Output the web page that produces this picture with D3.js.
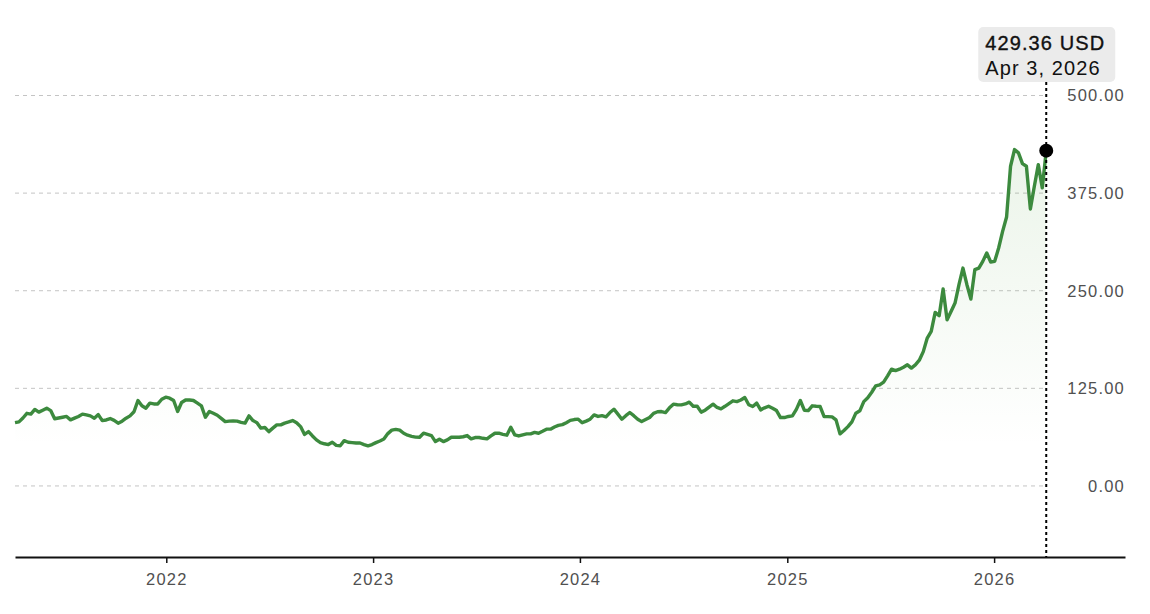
<!DOCTYPE html>
<html>
<head>
<meta charset="utf-8">
<script src="https://cdn.jsdelivr.net/npm/d3@7"></script>
<style>
  body { margin: 0; background: #fff; }
  svg { display: block; font-family: "Liberation Sans", Arial, sans-serif; }
  .grid line { stroke: #c4c4c4; stroke-dasharray: 4 4; }
  .tick-label { fill: #505050; font-size: 16.5px; letter-spacing: 1.2px; }
</style>
</head>
<body>
<svg id="chart" width="1150" height="614"></svg>
<script>
// weekly closes, first week ending 2021-04-09, last 2026-04-03
var start_date = "2021-04-09";
var weekly_close = [
  81, 82, 87, 93, 92, 98, 94.5, 97, 99.6, 96.5,
  86, 87, 88, 89, 84.6, 86.8, 89, 92, 91, 89.7,
  86.8, 91.4, 83.7, 84.5, 86.3, 84, 80.3, 83, 86.8, 89.7,
  95, 109.4, 102.6, 99.6, 106, 105, 105, 111, 113.7, 112.4,
  109.4, 95.3, 106.8, 110, 110, 109.4, 106, 102.6, 88, 95.3,
  93, 90.5, 86.5, 82.4, 83, 83.3, 83, 81.5, 80.4, 89.7,
  83.7, 81, 74, 74.8, 69.6, 74, 78.2, 78.2, 80.5, 82,
  83.7, 81, 76, 66, 69.6, 64, 59, 55.5, 54, 53,
  56, 52, 51.5, 58, 56, 55.5, 55, 55, 53, 51.3,
  53, 55.5, 57.5, 60, 67, 71.5, 72.5, 71.5, 67.5, 65,
  63.5, 62.5, 62.4, 67.5, 66, 64.5, 56.8, 59.8, 56.8, 59,
  62.4, 62.4, 62.4, 63, 64.5, 60.3, 62, 62, 61, 60.3,
  64, 67.5, 67.5, 66, 65, 75.2, 65.4, 64, 65.5, 66.7,
  66.7, 68.5, 67.5, 70, 72.7, 72.7, 75.5, 77.5, 78.5, 81,
  84, 85, 85.5, 81, 83, 85.5, 91, 89, 90, 88.5,
  94, 98.3, 92, 85.5, 90, 94, 90, 85.5, 82.4, 85,
  87.6, 93, 95, 95.3, 94, 100, 104.7, 104, 103.8, 105,
  107.3, 102, 102, 94.5, 97, 101, 104.7, 100.5, 98.7, 102,
  105.5, 109, 108, 110, 113.2, 104, 101.7, 106, 97.4, 100,
  102, 99.5, 96.5, 87.6, 87.6, 89, 89.7, 98, 109.4, 97,
  96.5, 102.6, 102, 101.7, 88.8, 88.8, 88.5, 84.6, 66.7, 71,
  76, 82, 93.2, 96.2, 108, 113, 120, 128.2, 129.5, 133,
  141, 149.6, 147.8, 149.5, 152, 155.1, 150.9, 155, 161, 172,
  189.4, 197.9, 222.2, 218, 252.2, 212.8, 223.5, 234.2, 257.7, 279,
  257.7, 239.4, 277, 279, 287.6, 298.3, 286.8, 287.6, 304.7, 326,
  344.5, 409.4, 430.8, 426.5, 412.8, 409.4, 354.7, 383.7, 411.5, 381.7,
  429.36
];
var y_ticks = [0, 125, 250, 375, 500];
var x_ticks = ["2022-01-01", "2023-01-01", "2024-01-01", "2025-01-01", "2026-01-01"];
var x_end_date = "2026-08-20";
var currency = "USD";

var parseDate = d3.timeParse("%Y-%m-%d");
var first = parseDate(start_date);

var data = weekly_close.map(function(v, i) {
  return { date: d3.timeDay.offset(first, i * 7), value: v };
});
var last = data[data.length - 1];

var left = 15, right = 1125, bottom = 557, gridRight = 1046;

var x = d3.scaleTime()
  .domain([first, parseDate(x_end_date)])
  .range([left, right]);

var y = d3.scaleLinear()
  .domain([-91, 500])
  .range([bottom, 95.5]);

var svg = d3.select("#chart");

// gradient under the line, fading out at the lowest close
var defs = svg.append("defs");
var grad = defs.append("linearGradient")
  .attr("id", "areaFill")
  .attr("gradientUnits", "userSpaceOnUse")
  .attr("x1", 0).attr("x2", 0)
  .attr("y1", y(d3.max(weekly_close))).attr("y2", y(d3.min(weekly_close)));
grad.append("stop").attr("offset", "0%").attr("stop-color", "#5aa64a").attr("stop-opacity", 0.12);
grad.append("stop").attr("offset", "100%").attr("stop-color", "#5aa64a").attr("stop-opacity", 0);

// grid lines
svg.append("g")
  .attr("class", "grid")
  .selectAll("line")
  .data(y_ticks)
  .enter().append("line")
  .attr("x1", left)
  .attr("x2", gridRight)
  .attr("y1", function(d) { return y(d); })
  .attr("y2", function(d) { return y(d); });

// y labels on the right
svg.append("g")
  .selectAll("text")
  .data(y_ticks)
  .enter().append("text")
  .attr("class", "tick-label")
  .attr("x", right)
  .attr("y", function(d) { return y(d); })
  .attr("dy", "0.36em")
  .attr("text-anchor", "end")
  .text(function(d) { return d3.format(".2f")(d); });

// area + line
var area = d3.area()
  .x(function(d) { return x(d.date); })
  .y0(bottom)
  .y1(function(d) { return y(d.value); });

var line = d3.line()
  .x(function(d) { return x(d.date); })
  .y(function(d) { return y(d.value); });

svg.append("path")
  .datum(data)
  .attr("d", area)
  .attr("fill", "url(#areaFill)");

svg.append("path")
  .datum(data)
  .attr("d", line)
  .attr("fill", "none")
  .attr("stroke", "#3c8a3e")
  .attr("stroke-width", 3.4)
  .attr("stroke-linejoin", "round");

// x axis
var xAxis = d3.axisBottom(x)
  .tickValues(x_ticks.map(parseDate))
  .tickSize(6)
  .tickSizeOuter(0)
  .tickFormat(d3.timeFormat("%Y"));

var gx = svg.append("g")
  .attr("transform", "translate(0," + bottom + ")")
  .call(xAxis);
gx.select(".domain").attr("stroke", "#111").attr("stroke-width", 2);
gx.selectAll(".tick line").attr("stroke", "#111").attr("stroke-width", 1.5);
gx.selectAll(".tick text")
  .attr("class", "tick-label")
  .attr("y", 16)
  .attr("dy", "0.71em")
  .style("font-family", "Liberation Sans, Arial, sans-serif");

// hover marker on last point
var lx = x(last.date);

svg.append("line")
  .attr("x1", lx).attr("x2", lx)
  .attr("y1", 82).attr("y2", bottom)
  .attr("stroke", "#000")
  .attr("stroke-width", 2)
  .attr("stroke-dasharray", "3 3");

svg.append("circle")
  .attr("cx", lx)
  .attr("cy", y(last.value))
  .attr("r", 7)
  .attr("fill", "#000");

var tip = svg.append("g").attr("transform", "translate(" + (lx - 68) + ",27)");
tip.append("rect")
  .attr("width", 137)
  .attr("height", 55)
  .attr("rx", 5)
  .attr("fill", "#ebebeb");
tip.append("text")
  .attr("x", 7).attr("y", 22.5)
  .attr("font-size", 20)
  .attr("letter-spacing", "1.1px")
  .attr("fill", "#111")
  .attr("stroke", "#111")
  .attr("stroke-width", 0.35)
  .text(d3.format(".2f")(last.value) + " " + currency);
tip.append("text")
  .attr("x", 7).attr("y", 48)
  .attr("font-size", 20)
  .attr("letter-spacing", "1.1px")
  .attr("fill", "#111")
  .text(d3.timeFormat("%b %-d, %Y")(last.date));
</script>
</body>
</html>
